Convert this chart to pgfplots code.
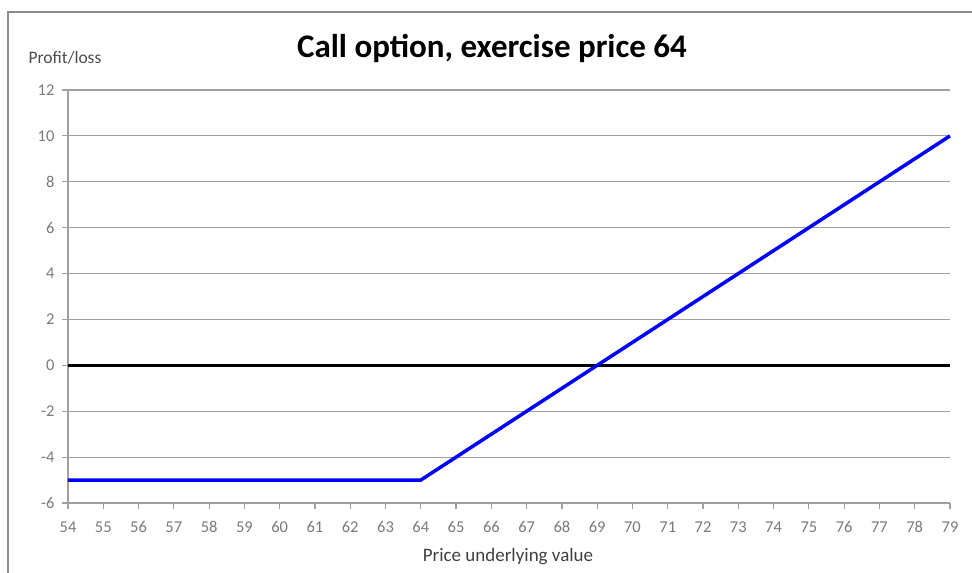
\documentclass[border=0pt]{standalone}
\usepackage{pgfplots}
\pgfplotsset{compat=1.18}
\usepackage{fontspec}
\setmainfont{Carlito}
\definecolor{tickgray}{HTML}{7A7A7A}
\definecolor{gridgray}{HTML}{A0A0A0}
\definecolor{framegray}{HTML}{8C8C8C}
\begin{document}
\begin{tikzpicture}[x=1pt,y=1pt]
\useasboundingbox (0,0) rectangle (972,573);
\draw[framegray, line width=1.2pt] (8,0) -- (8,561) -- (972,561);
\node[font=\fontsize{33}{38}\selectfont\bfseries] at (492,525) {Call option, exercise price 64};
\node[font=\fontsize{17.5}{20}\selectfont, text=black!70, anchor=west] at (25,515) {Profit/loss};
\node[font=\fontsize{19}{22}\selectfont, text=black!75] at (508,16) {Price underlying value};
\begin{axis}[
  at={(68pt,70pt)}, anchor=south west,
  width=882pt, height=413pt, scale only axis,
  xmin=54, xmax=79, ymin=-6, ymax=12,
  xtick={54,...,79}, ytick={-6,-4,...,12},
  axis x line=bottom, axis y line=left,
  axis line style={draw=gridgray, line width=1.2pt, -},
  tick style={draw=gridgray, line width=1.2pt},
  tick align=outside, major tick length=6pt,
  ymajorgrids, grid style={draw=gridgray, line width=1.2pt},
  tick label style={font=\fontsize{16.5}{19}\selectfont, text=tickgray},
  /pgf/number format/assume math mode=true,
  xticklabel style={yshift=-9pt},
  yticklabel style={xshift=-4pt},
  clip=false,
]
\addplot[black, line width=3pt] coordinates {(54,0) (79,0)};
\addplot[blue, line width=3.5pt] coordinates {(54,-5) (64,-5) (79,10)};
\end{axis}
\end{tikzpicture}
\end{document}
